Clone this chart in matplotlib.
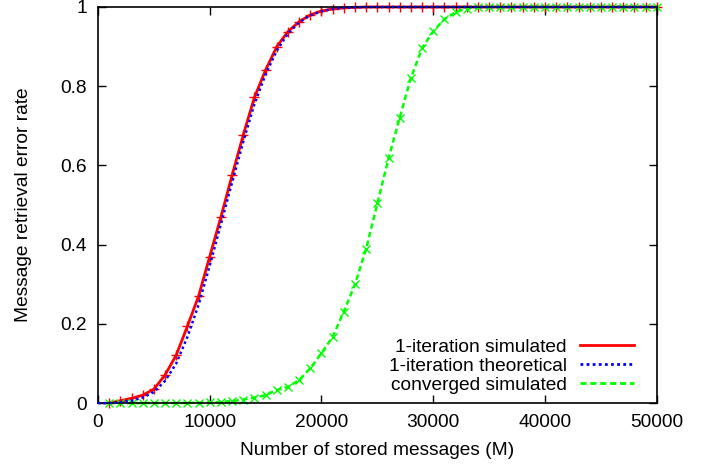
import numpy as np
import matplotlib
matplotlib.use("Agg")
import matplotlib.pyplot as plt
from matplotlib.lines import Line2D

plt.rcParams['font.family'] = ['Liberation Sans', 'DejaVu Sans']

# stored messages (x axis), one point every 1000
m_sim = list(range(1000, 50001, 1000))

# 1-iteration simulated (red, +)
err_1it_sim = [0.0, 0.006, 0.012, 0.02, 0.035, 0.071, 0.121, 0.194, 0.27, 0.37,
               0.47, 0.575, 0.677, 0.772, 0.841, 0.9, 0.938, 0.963, 0.98, 0.99,
               0.995, 0.998, 0.999] + [1.0] * 27

# 1-iteration theoretical (blue dotted)
m_theo = list(range(0, 50001, 1000))
err_1it_theo = [0.0, 0.0, 0.002, 0.006, 0.014, 0.028, 0.056, 0.1, 0.167, 0.248,
                0.347, 0.452, 0.557, 0.66, 0.755, 0.83, 0.89, 0.933, 0.961, 0.979,
                0.989, 0.995, 0.998, 0.999] + [1.0] * 27

# converged simulated (green, x)
err_conv_sim = [0.0, 0.0, 0.0, 0.0, 0.0, 0.0, 0.0, 0.0005, 0.001, 0.002,
                0.003, 0.005, 0.009, 0.014, 0.02, 0.033, 0.041, 0.058, 0.088, 0.126,
                0.167, 0.231, 0.30, 0.39, 0.504, 0.618, 0.721, 0.821, 0.896, 0.939,
                0.969, 0.987, 0.996, 0.999] + [1.0] * 16

xticks = [0, 10000, 20000, 30000, 40000, 50000]
yticks = [0, 0.2, 0.4, 0.6, 0.8, 1]
ytick_labels = ['0', '0.2', '0.4', '0.6', '0.8', '1']

blue_dots = (0, (1, 1.2))
green_dash = (0, (2.2, 1.35))

fig = plt.figure(figsize=(7.10, 4.66), dpi=100)
ax = fig.add_axes([0.138, 0.135, 0.787, 0.85])

ax.plot(m_theo, err_1it_theo, color='#0000ff', lw=1.8, linestyle=blue_dots,
        clip_on=False, zorder=3)
ax.plot(m_sim, err_1it_sim, color='#ff0000', lw=2.0, marker='+', ms=7, mew=1,
        clip_on=False, zorder=2)
ax.plot(m_sim, err_conv_sim, color='#00ff00', lw=1.8, linestyle=green_dash,
        marker='x', ms=5.5, mew=1, clip_on=False, zorder=2)

ax.set_xlim(0, 50000)
ax.set_ylim(0, 1)
ax.set_xticks(xticks)
ax.set_xticklabels([str(t) for t in xticks])
ax.set_yticks(yticks)
ax.set_yticklabels(ytick_labels)
ax.tick_params(direction='in', length=6, width=1, top=True, right=True,
               labelsize=13.8, pad=8)
for s in ax.spines.values():
    s.set_linewidth(1.2)

ax.set_xlabel('Number of stored messages (M)', fontsize=13.8, labelpad=8)
ax.set_ylabel('Message retrieval error rate', fontsize=13.8)
ax.yaxis.set_label_coords(-0.118, 0.5)

handles = [
    Line2D([], [], color='#ff0000', lw=2),
    Line2D([], [], color='#0000ff', lw=2, linestyle=blue_dots),
    Line2D([], [], color='#00ff00', lw=2, linestyle=green_dash),
]
labels = ['1-iteration simulated', '1-iteration theoretical', 'converged simulated']
ax.legend(handles, labels, loc='lower right', frameon=False, markerfirst=False,
          fontsize=13.8, handlelength=2.8, labelspacing=0.08, handletextpad=0.7,
          borderaxespad=0.2, bbox_to_anchor=(0.98, -0.005))

fig.savefig('out.png', dpi=100)
